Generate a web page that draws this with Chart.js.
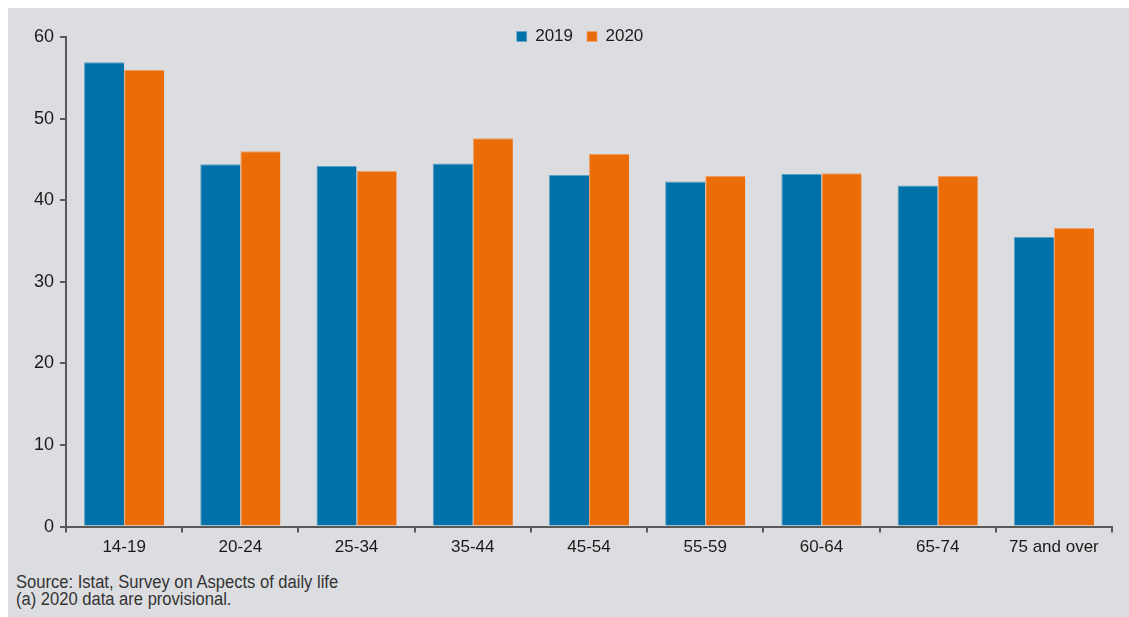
<!DOCTYPE html>
<html>
<head>
<meta charset="utf-8">
<script src="https://cdn.jsdelivr.net/npm/chart.js@4.4.0/dist/chart.umd.min.js"></script>
<style>
  body { margin: 0; background: #fff; }
  #wrap { position: absolute; left: 8px; top: 8px; width: 1121px; height: 609px; background: #dcdde0; }
  #box { position: absolute; left: 0; top: 0; width: 1121px; height: 560px; }
  .note { position: absolute; left: 8px; font-family: "Liberation Sans", Arial, sans-serif; font-size: 18px; color: #333; line-height: 18px; white-space: nowrap; transform: scaleX(0.92); transform-origin: left top; }
</style>
</head>
<body>
<div id="wrap">
  <div id="box"><canvas id="chart"></canvas></div>
  <div class="note" style="top:565px">Source: Istat, Survey on Aspects of daily life</div>
  <div class="note" style="top:582px">(a) 2020 data are provisional.</div>
</div>
<script>
const ageGroups = ["14-19", "20-24", "25-34", "35-44", "45-54", "55-59", "60-64", "65-74", "75 and over"];
const values2019 = [56.9, 44.4, 44.2, 44.5, 43.1, 42.3, 43.2, 41.8, 35.5];
const values2020 = [56.0, 46.0, 43.6, 47.6, 45.7, 43.0, 43.3, 43.0, 36.6];
const yTicks = [0, 10, 20, 30, 40, 50, 60];

const axisColor = "#595959";
const font = { family: "'Liberation Sans', Arial, sans-serif", size: 17 };

// legend overlaps the top of the plot: keep its layout height small,
// then widen its box again so the draw clip doesn't cut the labels
const legendBox = {
  id: "legendBox",
  afterLayout(chart) {
    const lg = chart.legend;
    if (!lg) return;
    lg.bottom = lg.top + 40;
    lg.height = 40;
    lg.left += 10;
    lg.right += 10;
  }
};

new Chart(document.getElementById("chart"), {
  type: "bar",
  data: {
    labels: ageGroups,
    datasets: [
      { label: "2019", data: values2019, backgroundColor: "#0072a9", borderColor: "#5d9ec4", borderWidth: { top: 1, left: 1, right: 0, bottom: 0 } },
      { label: "2020", data: values2020, backgroundColor: "#ec6d07", borderColor: "#f0a066", borderWidth: { top: 1, left: 1, right: 0, bottom: 0 } }
    ]
  },
  options: {
    responsive: true,
    maintainAspectRatio: false,
    animation: false,
    categoryPercentage: 0.69,
    barPercentage: 1.0,
    layout: { padding: { left: 20, right: 17, top: 6, bottom: 5 } },
    plugins: {
      legend: {
        position: "top",
        align: "center",
        maxHeight: 23,
        labels: { boxWidth: 10, boxHeight: 10, padding: 14, color: "#1a1a1a", font: font }
      },
      tooltip: { enabled: false }
    },
    scales: {
      x: {
        grid: { display: true, drawOnChartArea: false, drawTicks: true, tickLength: 6, color: axisColor, lineWidth: 2 },
        border: { display: true, color: axisColor, width: 2 },
        ticks: { color: "#1a1a1a", font: font, padding: 5, maxRotation: 0 }
      },
      y: {
        min: 0,
        max: 60,
        afterBuildTicks(scale) { scale.ticks = yTicks.map(v => ({ value: v })); },
        grid: { display: true, drawOnChartArea: false, drawTicks: true, tickLength: 6, color: axisColor, lineWidth: 2 },
        border: { display: true, color: axisColor, width: 2 },
        ticks: { color: "#1a1a1a", font: { family: font.family, size: 18 }, padding: 6 }
      }
    }
  },
  plugins: [legendBox]
});
</script>
</body>
</html>
